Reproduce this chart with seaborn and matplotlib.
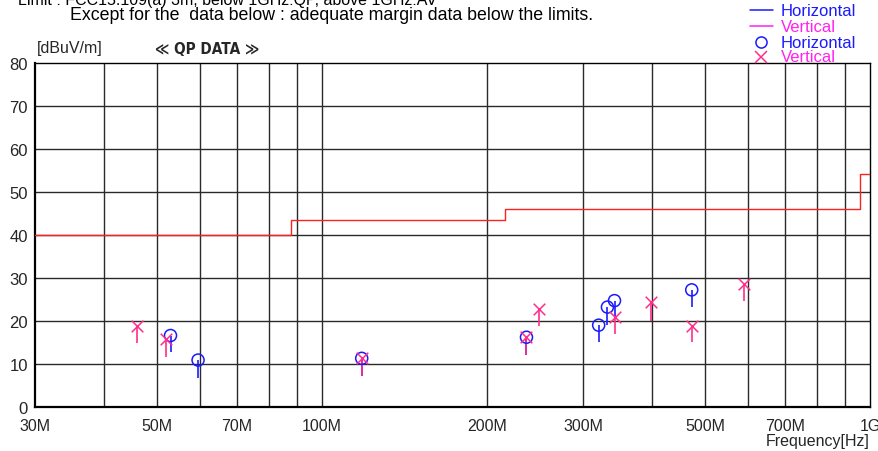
import matplotlib
matplotlib.use("Agg")
import matplotlib.pyplot as plt
from matplotlib import font_manager
from matplotlib.lines import Line2D
import seaborn as sns
import pandas as pd

# ---- data -------------------------------------------------------------
# FCC 15.109(a) 3 m limit (QP), step edges in MHz and level in dBuV/m
limit_freq = [30, 88, 216, 960, 1000]
limit_level = [40.0, 43.5, 46.0, 54.0, 54.0]

# Horizontal polarisation: frequency [MHz], QP level, lower end of marker stick
h_freq = [53.0, 59.5, 118.3, 236.3, 320.0, 332.0, 342.0, 473.0]
h_level = [16.6, 10.9, 11.3, 16.2, 19.0, 23.2, 24.7, 27.2]
h_low = [12.7, 6.7, 7.3, 12.1, 15.0, 19.0, 20.4, 23.3]

# Vertical polarisation
v_freq = [46.0, 52.0, 118.3, 236.3, 249.3, 342.0, 398.0, 473.0, 589.0]
v_level = [18.8, 15.8, 11.3, 16.2, 22.8, 20.8, 24.3, 18.9, 28.6]
v_low = [14.8, 11.7, 7.3, 12.1, 18.9, 17.0, 20.0, 15.0, 24.5]

x_ticks = [30, 50, 70, 100, 200, 300, 500, 700, 1000]
x_tick_labels = ["30M", "50M", "70M", "100M", "200M", "300M", "500M", "700M", "1G"]
x_grid = [40, 50, 60, 70, 80, 90, 100, 200, 300, 400, 500, 600, 700, 800, 900]
y_ticks = [0, 10, 20, 30, 40, 50, 60, 70, 80]

# ---- style ------------------------------------------------------------
sns.set_theme(style="white")
installed = {f.name for f in font_manager.fontManager.ttflist}
narrow = next((n for n in ["Liberation Sans Narrow", "DejaVu Sans Condensed",
                           "Liberation Sans"] if n in installed), "DejaVu Sans")
FONT = [narrow, "DejaVu Sans"]
plt.rcParams["font.family"] = FONT
plt.rcParams["font.stretch"] = "condensed"

BLUE = "#1a1aff"
PINK = "#ff2d8c"
MAGENTA = "#ff22ee"
RED = "#ff2020"

fig = plt.figure(figsize=(8.79, 4.52), dpi=100)
W, H = 879, 452
ax = fig.add_axes([35 / W, 1 - 408 / H, (870 - 35) / W, (408 - 63.5) / H])
ax.set_xscale("log")
ax.set_xlim(30, 1000)
ax.set_ylim(0, 80)

# grid
for f in x_grid:
    ax.axvline(f, color="#2a2a2a", lw=1.0, zorder=1)
for v in y_ticks[1:-1]:
    ax.axhline(v, color="#2a2a2a", lw=1.0, zorder=1)

# limit line
lim = pd.DataFrame({"freq": limit_freq, "level": limit_level})
sns.lineplot(data=lim, x="freq", y="level", drawstyle="steps-post",
             color=RED, lw=1.0, ax=ax, zorder=3)

# sticks under each marker
ax.vlines(h_freq, h_low, h_level, color=BLUE, lw=1.2, zorder=4)
ax.vlines(v_freq, v_low, v_level, color=PINK, lw=1.2, zorder=4)

# markers
hdf = pd.DataFrame({"freq": h_freq, "level": h_level})
vdf = pd.DataFrame({"freq": v_freq, "level": v_level})
sns.scatterplot(data=hdf, x="freq", y="level", marker="o", s=75,
                facecolor="none", edgecolor=BLUE, linewidth=1.1, ax=ax, zorder=5)
sns.scatterplot(data=vdf, x="freq", y="level", marker="x", s=70,
                color=PINK, linewidth=1.1, ax=ax, zorder=6)

ax.set_xticks(x_ticks)
ax.set_xticklabels(x_tick_labels)
ax.xaxis.set_minor_locator(matplotlib.ticker.NullLocator())
ax.set_yticks(y_ticks)
ax.tick_params(axis="y", length=0, labelsize=12, pad=5)
ax.tick_params(axis="x", length=0, labelsize=11.5, pad=8)
ax.set_xlabel("")
ax.set_ylabel("")
for s in ax.spines.values():
    s.set_color("black")
    s.set_linewidth(1.0)
ax.spines["bottom"].set_linewidth(1.6)
ax.spines["left"].set_linewidth(1.6)

# header texts
fig.text(18 / W, 1 - 0 / H, "Limit : FCC15.109(a) 3m, below 1GHz:QP, above 1GHz:AV",
         fontsize=11.5, va="center", ha="left", color="black")
fig.text(70 / W, 1 - 15 / H,
         "Except for the  data below : adequate margin data below the limits.",
         fontsize=12.8, va="center", ha="left", color="black")
fig.text(37 / W, 1 - 49 / H, "[dBuV/m]", fontsize=11.5, va="center", ha="left")
fig.text(155 / W, 1 - 49 / H, "≪ QP DATA ≫", fontsize=11, fontweight="bold",
         va="center", ha="left", family=["DejaVu Sans"])
fig.text(870 / W, 1 - 442 / H, "Frequency[Hz]", fontsize=11.5, va="center", ha="right")

# legend
rows = [11, 27, 43, 58]
fig.add_artist(Line2D([750 / W, 773 / W], [1 - rows[0] / H] * 2, color=BLUE, lw=1.1,
                      transform=fig.transFigure))
fig.add_artist(Line2D([750 / W, 773 / W], [1 - rows[1] / H] * 2, color=MAGENTA, lw=1.1,
                      transform=fig.transFigure))
fig.add_artist(Line2D([761 / W], [1 - rows[2] / H], marker="o", ms=8, mfc="none",
                      mec=BLUE, mew=1.1, transform=fig.transFigure))
fig.add_artist(Line2D([761 / W], [1 - rows[3] / H], marker="x", ms=8,
                      mec=PINK, mew=1.1, transform=fig.transFigure))
for r, txt, c in zip(rows, ["Horizontal", "Vertical", "Horizontal", "Vertical"],
                     [BLUE, MAGENTA, BLUE, MAGENTA]):
    fig.text(781 / W, 1 - r / H, txt, fontsize=12, color=c, va="center", ha="left")

fig.savefig("out.png", dpi=100)
